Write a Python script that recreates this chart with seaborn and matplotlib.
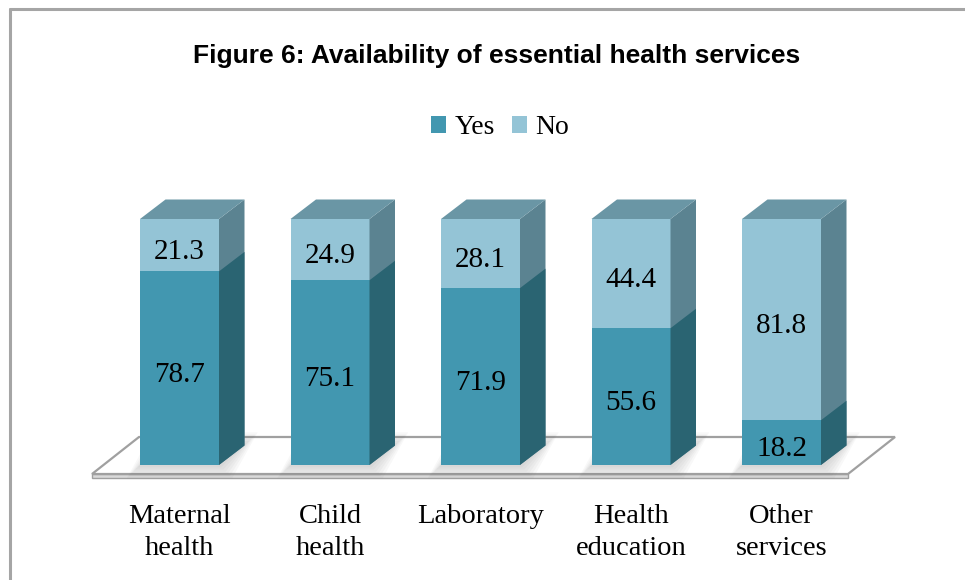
import matplotlib
matplotlib.use("Agg")
import matplotlib.pyplot as plt
import seaborn as sns
import pandas as pd
from matplotlib.patches import Polygon, Patch
from matplotlib.lines import Line2D

categories = ["Maternal\nhealth", "Child\nhealth", "Laboratory", "Health\neducation", "Other\nservices"]
yes_values = [78.7, 75.1, 71.9, 55.6, 18.2]
no_values = [21.3, 24.9, 28.1, 44.4, 81.8]
series_names = ["Yes", "No"]
title = "Figure 6: Availability of essential health services"

yes_front = "#4297B0"
yes_side = "#2A6472"
no_front = "#94C4D6"
no_side = "#5B8391"
top_col = "#6A96A5"

sns.set_theme(style="white")
plt.rcParams["text.color"] = "black"
serif = ["Liberation Serif", "DejaVu Serif"]

df = pd.DataFrame({"cat": categories, "Yes": yes_values, "No": no_values})
df["Total"] = df["Yes"] + df["No"]

W, H = 965, 580
fig = plt.figure(figsize=(W / 100, H / 100), dpi=100)
ax_l, ax_r, ax_t, ax_b = 60, 920, 180, 485
ax = fig.add_axes([ax_l / W, 1 - ax_b / H, (ax_r - ax_l) / W, (ax_b - ax_t) / H])

bw = 79 / 150.5
sns.barplot(data=df, x="cat", y="Total", color=no_front, saturation=1, width=bw,
            linewidth=0, ax=ax, zorder=3)
sns.barplot(data=df, x="cat", y="Yes", color=yes_front, saturation=1, width=bw,
            linewidth=0, ax=ax, zorder=4)

px_per_x = 150.5
px_per_y = 2.46
x0c = 179.5
ax.set_xlim((ax_l - x0c) / px_per_x, (ax_r - x0c) / px_per_x)
ax.set_ylim(-(ax_b - 465) / px_per_y, (465 - ax_t) / px_per_y)

dx = 25.5 / px_per_x
dy = 19.5 / px_per_y

bar_patches = [p for p in ax.patches if p.get_zorder() in (3, 4)]
n = len(categories)
total_bars = bar_patches[:n]
yes_bars = bar_patches[n:2 * n]

# floor slab
fl_front_y = -9 / px_per_y
fl_back_y = 28 / px_per_y
fl = [((92 - x0c) / px_per_x, fl_front_y), ((139 - x0c) / px_per_x, fl_back_y),
      ((895 - x0c) / px_per_x, fl_back_y), ((848 - x0c) / px_per_x, fl_front_y)]
slab = 3.5 / px_per_y
ax.add_patch(Polygon([(fl[0][0], fl_front_y), (fl[3][0], fl_front_y),
                      (fl[3][0], fl_front_y - slab), (fl[0][0], fl_front_y - slab)],
                     closed=True, facecolor="#DADADA", edgecolor="#A0A0A0", lw=1.0, zorder=1))
ax.add_patch(Polygon(fl, closed=True, facecolor="white", edgecolor="#A0A0A0", lw=1.6, zorder=1.5))

# soft shadows of the bars on the floor
for p in total_bars:
    xa = p.get_x()
    xb = xa + p.get_width()
    for k in range(1, 7):
        ex = k * 2.2 / px_per_x
        ey = k * 2.2 / px_per_y
        ax.add_patch(Polygon([(xa - ex, -ey), (xb + ex, -ey), (xb + dx + ex, dy + ey),
                              (xa + dx - ex, dy + ey)], closed=True,
                             facecolor="#606060", edgecolor="none", alpha=0.045, zorder=2))

def side_poly(p, col, z):
    x1 = p.get_x() + p.get_width()
    y0 = p.get_y()
    y1 = p.get_y() + p.get_height()
    ax.add_patch(Polygon([(x1, y0), (x1 + dx, y0 + dy), (x1 + dx, y1 + dy), (x1, y1)],
                         closed=True, facecolor=col, edgecolor="none", zorder=z))

for p in total_bars:
    side_poly(p, no_side, 3)
    xa = p.get_x()
    xb = xa + p.get_width()
    yt = p.get_y() + p.get_height()
    ax.add_patch(Polygon([(xa, yt), (xa + dx, yt + dy), (xb + dx, yt + dy), (xb, yt)],
                         closed=True, facecolor=top_col, edgecolor="none", zorder=3))
for p in yes_bars:
    side_poly(p, yes_side, 4)

# value labels
shift = 2.6
for i, (yv, nv) in enumerate(zip(yes_values, no_values)):
    ax.text(i, yv / 2 - shift, f"{yv}", ha="center", va="center", fontsize=21,
            family=serif, color="black", zorder=6)
    ax.text(i, yv + nv / 2 - shift, f"{nv}", ha="center", va="center", fontsize=21,
            family=serif, color="black", zorder=6)

ax.set_xlabel("")
ax.set_ylabel("")
ax.set_yticks([])
ax.tick_params(axis="x", length=0, pad=14, labelcolor="black")
ax.set_xticks(range(n))
ax.set_xticklabels(categories, fontsize=20.5, family=serif, linespacing=1.35, color="black")
for s in ax.spines.values():
    s.set_visible(False)
ax.patch.set_alpha(0)

# title
fig.text(497 / W, 1 - 63 / H, title, ha="center", va="baseline", fontsize=19,
         fontweight="bold", color="black",
         family=["Liberation Sans Narrow", "Liberation Sans", "DejaVu Sans"])

# legend
handles = [Patch(facecolor=yes_front, edgecolor="none", label=series_names[0]),
           Patch(facecolor=no_front, edgecolor="none", label=series_names[1])]
leg = fig.legend(handles=handles, loc="center", bbox_to_anchor=(500 / W, 1 - 128 / H), ncol=2,
                 frameon=False, prop={"family": serif, "size": 20}, handlelength=0.55,
                 handleheight=0.55, handletextpad=0.3, columnspacing=0.6)
for t in leg.get_texts():
    t.set_color("black")

# border
fig.add_artist(Line2D([9.5 / W, 1], [1 - 9 / H, 1 - 9 / H], color="#A5A5A5", lw=2.2,
                      transform=fig.transFigure))
fig.add_artist(Line2D([9.5 / W, 9.5 / W], [0, 1 - 9 / H], color="#A5A5A5", lw=2.2,
                      transform=fig.transFigure))

fig.savefig("out.png", dpi=100, facecolor="white")
